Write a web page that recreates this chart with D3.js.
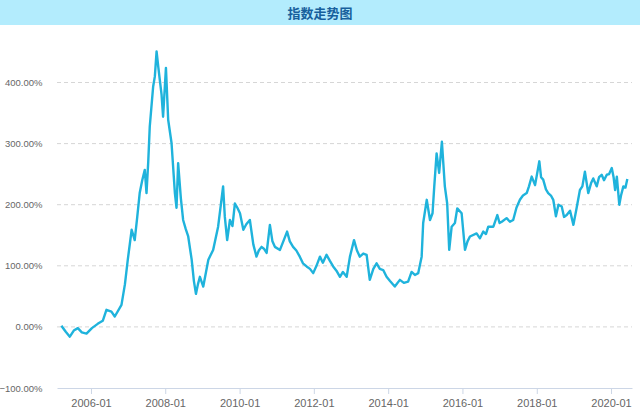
<!DOCTYPE html>
<html>
<head>
<meta charset="utf-8">
<script src="https://cdn.jsdelivr.net/npm/d3@7"></script>
<style>
  body { margin: 0; background: #fff; }
  svg { display: block; font-family: Arial, "Liberation Sans", "Noto Sans CJK SC", sans-serif; }
</style>
</head>
<body>
<div id="chart"></div>
<script>
// data
const dates = [
  '2005-03-16','2005-04-28','2005-06-07','2005-07-16','2005-08-25','2005-10-03','2005-11-18',
  '2006-01-10','2006-03-08','2006-04-27','2006-06-02','2006-07-21','2006-08-23','2006-10-28','2006-12-01','2006-12-29',
  '2007-02-05','2007-03-07','2007-04-01','2007-04-25','2007-05-20','2007-06-14','2007-07-01','2007-07-18','2007-08-02',
  '2007-09-04','2007-09-21','2007-10-08','2007-10-25','2007-11-09','2007-11-26','2007-12-11',
  '2008-01-08','2008-01-30','2008-03-03','2008-04-05','2008-04-21','2008-05-07','2008-06-03','2008-06-25','2008-07-21',
  '2008-08-14','2008-09-17','2008-10-09','2008-10-29','2008-11-18','2008-12-07',
  '2009-01-09','2009-02-05','2009-02-28','2009-04-16','2009-06-04','2009-07-01','2009-07-23','2009-08-09','2009-09-01',
  '2009-09-28','2009-10-23','2009-11-16','2009-12-10',
  '2010-01-05','2010-02-07','2010-03-08','2010-04-12','2010-05-16','2010-06-16','2010-07-09','2010-08-05','2010-08-28',
  '2010-09-24','2010-10-26','2010-11-20','2010-12-14',
  '2011-02-02','2011-03-07','2011-04-13','2011-05-10','2011-06-11','2011-07-13','2011-08-16','2011-09-16','2011-10-22',
  '2011-11-24','2011-12-26',
  '2012-01-27','2012-03-01','2012-03-30','2012-05-05','2012-06-07','2012-07-09','2012-08-10','2012-09-14','2012-10-13',
  '2012-11-19','2012-12-21',
  '2013-01-30','2013-02-28','2013-03-28','2013-05-01','2013-06-03','2013-07-04','2013-08-08','2013-09-09','2013-10-11',
  '2013-11-13','2013-12-16',
  '2014-01-19','2014-03-07','2014-04-26','2014-06-04','2014-07-16','2014-08-19','2014-09-21','2014-10-23','2014-11-26',
  '2014-12-11',
  '2015-01-15','2015-02-16','2015-03-13','2015-03-30','2015-04-22','2015-05-17','2015-06-13','2015-07-12','2015-08-04',
  '2015-08-24','2015-09-17','2015-10-19','2015-11-11','2015-12-24',
  '2016-01-26','2016-02-20','2016-03-15','2016-05-19','2016-06-21','2016-07-24','2016-08-19','2016-09-11','2016-10-31',
  '2016-12-09','2016-12-31',
  '2017-01-22','2017-03-10','2017-04-12','2017-05-14','2017-06-15','2017-07-19','2017-08-18','2017-09-24','2017-10-16',
  '2017-11-12','2017-12-15',
  '2018-01-26','2018-02-12','2018-03-05','2018-04-01','2018-04-23','2018-05-20','2018-06-12','2018-07-08','2018-08-02',
  '2018-09-03','2018-09-26','2018-10-22','2018-11-24','2018-12-27',
  '2019-01-28','2019-03-01','2019-03-25','2019-04-19','2019-05-22','2019-06-18','2019-07-10','2019-08-13','2019-09-05',
  '2019-10-01','2019-10-24','2019-11-20','2019-12-12',
  '2020-01-08','2020-01-26','2020-02-10','2020-02-27','2020-03-09','2020-03-22','2020-04-08','2020-05-01','2020-05-22',
  '2020-06-09'
];
const values = [
  2, -8, -16, -6, -2, -9, -11,
  -2, 5, 10, 28, 25, 17, 36, 70, 110,
  159, 142, 180, 219, 240, 257, 219, 270, 328,
  393, 410, 451, 425, 404, 380, 344,
  424, 339, 301, 219, 195, 268, 210, 175, 160,
  148, 110, 75, 54, 70, 82,
  66, 90, 110, 126, 164, 200, 230, 180, 142,
  175, 165, 202, 195,
  186, 159, 168, 175, 135, 115, 125, 131, 128,
  121, 167, 140, 131,
  126, 140, 156, 140, 131, 125, 115, 104, 99,
  95, 88,
  100, 115, 105, 118, 108, 99, 92, 82, 90,
  82, 115,
  142, 125, 115, 120, 118, 77, 95, 104, 95,
  93, 82,
  75, 66, 77, 72, 74, 90, 85, 88, 115,
  170,
  208, 175, 186, 230, 284, 252, 303, 230, 202,
  126, 164, 170, 194, 186,
  126, 140, 148, 153, 145, 156, 152, 164, 164,
  183, 170,
  172, 178, 172, 175, 195, 208, 215, 219, 230,
  246, 232,
  271, 245, 241, 225, 219, 215, 208, 181, 200,
  197, 180, 183, 190, 167,
  195, 224, 230, 254, 219, 235, 243, 230, 245,
  249, 240, 249, 250,
  260, 245, 224, 246, 225, 200, 215, 230, 228,
  242
];
const yTicks = [-100, 0, 100, 200, 300, 400];
const xTicks = ['2006-01', '2008-01', '2010-01', '2012-01', '2014-01', '2016-01', '2018-01', '2020-01'];
const title = '指数走势图';

const parseDay = d3.timeParse('%Y-%m-%d');
const parseMonth = d3.timeParse('%Y-%m');
const series = dates.map((d, i) => ({ date: parseDay(d), value: values[i] }));

const width = 640;
const height = 413;

const svg = d3.select('#chart').append('svg')
  .attr('width', width).attr('height', height);

// header band
svg.append('rect')
  .attr('x', 0).attr('y', 0).attr('width', width).attr('height', 25)
  .style('fill', '#b3ecfd');
svg.append('text')
  .attr('x', 320).attr('y', 17.5)
  .attr('text-anchor', 'middle')
  .style('font-size', '13px').style('font-weight', 'bold')
  .style('fill', '#17609c')
  .text(title);

// scales
const xScale = d3.scaleTime()
  .domain([parseDay('2005-02-01'), parseDay('2020-07-25')])
  .range([57, 632]);
const yScale = d3.scaleLinear().domain([-100, 400]).range([388, 82.5]);

// grid
svg.append('g').attr('class', 'grid')
  .selectAll('line').data(yTicks.filter(d => d > -100)).join('line')
  .attr('x1', 57).attr('x2', 632)
  .attr('y1', d => yScale(d)).attr('y2', d => yScale(d))
  .style('stroke', '#d6d6d6').style('stroke-dasharray', '4,3');

// y axis (labels only)
const yAxis = d3.axisLeft(yScale).tickValues(yTicks)
  .tickFormat(d => d3.format('.2f')(d) + '%')
  .tickSize(0).tickPadding(0);
const yAxisDraw = svg.append('g').attr('transform', 'translate(42.5,0)').call(yAxis);
yAxisDraw.select('.domain').remove();
yAxisDraw.selectAll('text')
  .style('font-size', '9.5px').style('fill', '#666')
  .style('font-family', 'Arial, "Liberation Sans", sans-serif');

// x axis
const xAxis = d3.axisBottom(xScale)
  .tickValues(xTicks.map(parseMonth))
  .tickFormat(d3.timeFormat('%Y-%m'))
  .tickSizeInner(6).tickSizeOuter(0).tickPadding(5);
const xAxisDraw = svg.append('g').attr('transform', 'translate(0,388)').call(xAxis);
xAxisDraw.select('.domain').style('stroke', '#ccd6e6');
xAxisDraw.selectAll('.tick line').style('stroke', '#ccd6e6');
xAxisDraw.selectAll('text')
  .style('font-size', '11px').style('fill', '#666')
  .style('font-family', 'Arial, "Liberation Sans", sans-serif');

// line
const line = d3.line()
  .x(d => xScale(d.date))
  .y(d => yScale(d.value));
svg.append('path').datum(series)
  .attr('d', line)
  .style('fill', 'none')
  .style('stroke', '#1fb3dc')
  .style('stroke-width', 2.4)
  .style('stroke-linejoin', 'round');
</script>
</body>
</html>
